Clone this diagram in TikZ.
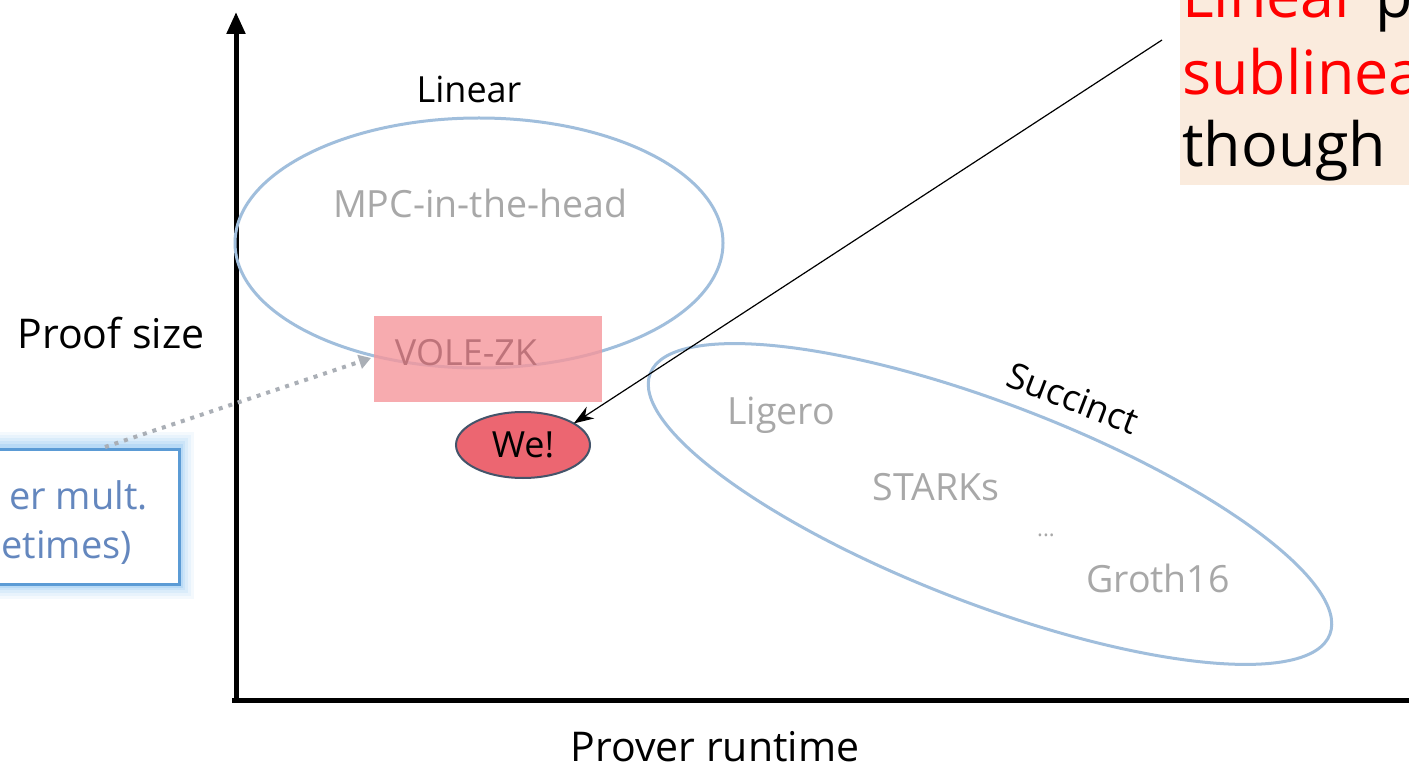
\documentclass[tikz,border=0pt]{standalone}
\usepackage{fontspec}
\setmainfont{Open Sans}
\usetikzlibrary{arrows.meta,shapes.geometric}
\definecolor{ellblue}{RGB}{160,190,220}
\definecolor{lbltxt}{RGB}{168,168,168}
\definecolor{volefill}{RGB}{246,150,155}
\definecolor{voletxt}{RGB}{190,115,122}
\definecolor{wefill}{RGB}{236,102,113}
\definecolor{weedge}{RGB}{68,84,106}
\definecolor{peach}{RGB}{250,235,221}
\definecolor{boxblue}{RGB}{91,155,213}
\definecolor{glow}{RGB}{150,200,245}
\definecolor{boxtxt}{RGB}{100,135,190}
\definecolor{dotgray}{RGB}{170,175,182}
\tikzset{
  axis/.style={line width=5pt},
  group/.style={draw=ellblue, line width=3pt},
  gtext/.style={text=lbltxt, font=\fontsize{37.5}{42}\selectfont, inner sep=0pt},
  btext/.style={text=black, font=\fontsize{41}{46}\selectfont, inner sep=0pt},
  big/.style={font=\fontsize{61}{72}\selectfont, inner sep=0pt, anchor=base west},
}
\begin{document}
\begin{tikzpicture}[x=1pt,y=-1pt]
\useasboundingbox (0,0) rectangle (1409,767);
\clip (0,0) rectangle (1409,767);
\fill[white] (0,0) rectangle (1409,767);
% callout box
\fill[peach] (1180,-5) rectangle (1420,185);
\node[big, text=red] (c1) at (1182,18) {Linear \textcolor{black}{p}};
\node[big, text=red] (c2) at (1182,95) {sublinear};
\node[big, text=black] (c3) at (1182,167) {though};
% left glowing box
\foreach \w/\o in {32/0.1,26/0.12,20/0.16,14/0.22,9/0.35}{
  \draw[glow, line width=\w pt, opacity=\o] (-20,448) rectangle (178,583);
}
\node[draw=boxblue, line width=3pt, fill=white, minimum width=198pt, minimum height=135pt, inner sep=0pt, anchor=north west] (lbox) at (-20,448) {};
\node[text=boxtxt, font=\fontsize{38}{44}\selectfont, inner sep=0pt, anchor=east] (l1) at (148,495) {er mult.};
\node[text=boxtxt, font=\fontsize{38}{44}\selectfont, inner sep=0pt, anchor=east] (l2) at (132,548) {etimes)};
% axes
\coordinate (o) at (236,700);
\coordinate (ytop) at (236,12);
\coordinate (xend) at (1425,700);
\draw[axis, -{Triangle[width=18pt,length=22pt]}] (236,702) -- (ytop);
\draw[axis] (232,700) -- (xend);
% group ellipses
\draw[group] (479,243) ellipse [x radius=244pt, y radius=125pt];
\draw[group, rotate around={-21:(990,504)}] (990,504) ellipse [x radius=364pt, y radius=100pt];
% VOLE-ZK
\node[fill=volefill, fill opacity=0.8, text opacity=1, minimum width=228pt, minimum height=86pt, inner sep=0pt, anchor=north west] (vole) at (374,316) {};
\node[text=voletxt, font=\fontsize{36}{40}\selectfont, inner sep=0pt] (volet) at (466,353) {VOLE-ZK};
% We!
\node[ellipse, draw=weedge, line width=2pt, fill=wefill, minimum width=134pt, minimum height=66pt, inner sep=0pt, outer sep=0pt, font=\fontsize{36}{40}\selectfont] (we) at (523,445) {We!};
% labels
\node[btext] (ylab) at (111,333) {Proof size};
\node[btext] (xlab) at (715,747) {Prover runtime};
\node[btext, font=\fontsize{36}{40}\selectfont] (lin) at (469,89) {Linear};
\node[btext, font=\fontsize{36}{40}\selectfont, rotate=-21] (suc) at (1073,398) {Succinct};
\node[gtext] (mpc) at (480,203) {MPC-in-the-head};
\node[gtext] (lig) at (781,415) {Ligero};
\node[gtext] (stark) at (936,487) {STARKs};
\node[gtext, font=\fontsize{22}{24}\selectfont] (dots) at (1046,535) {...};
\node[gtext] (groth) at (1158,578) {Groth16};
% connectors
\coordinate (src) at (1162,40);
\draw[line width=1.2pt, -{Stealth[length=20pt,width=14pt]}] (src) -- (we.23);
\coordinate (dstart) at (105,447);
\draw[dotgray, line width=4pt, dash pattern=on 4pt off 6pt, -{Triangle[width=14pt,length=12pt]}] (dstart) -- (371,358);
\end{tikzpicture}
\end{document}
